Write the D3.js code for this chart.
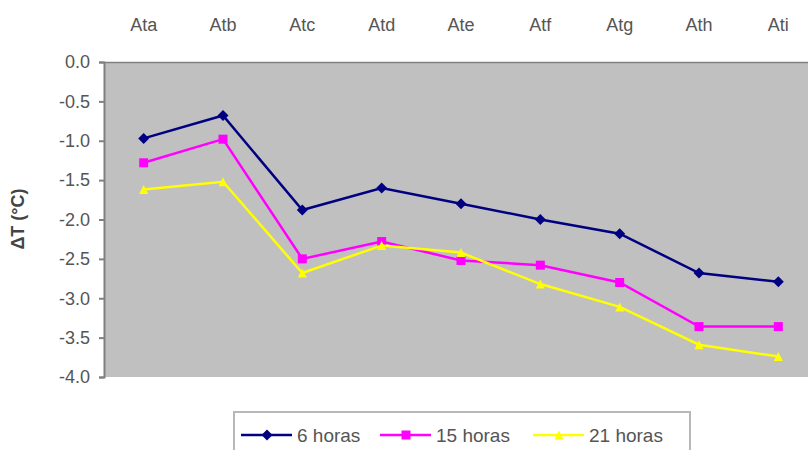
<!DOCTYPE html>
<html>
<head>
<meta charset="utf-8">
<script src="https://cdn.jsdelivr.net/npm/d3@7"></script>
<style>
  html, body { margin: 0; padding: 0; background: #fff; }
  svg { display: block; font-family: "Liberation Sans", Arial, sans-serif; }
</style>
</head>
<body>
<svg id="chart" width="808" height="450"></svg>
<script>
// Categories (sites) along the top axis
const categories = ["Ata", "Atb", "Atc", "Atd", "Ate", "Atf", "Atg", "Ath", "Ati"];
// Series values per observation hour
const serie6h  = [-0.97, -0.68, -1.88, -1.60, -1.80, -2.00, -2.18, -2.68, -2.79];
const serie15h = [-1.28, -0.98, -2.50, -2.28, -2.52, -2.58, -2.80, -3.36, -3.36];
const serie21h = [-1.62, -1.52, -2.68, -2.33, -2.42, -2.82, -3.11, -3.59, -3.74];
const seriesNames = ["6 horas", "15 horas", "21 horas"];
const yTicks = [0, -0.5, -1, -1.5, -2, -2.5, -3, -3.5, -4];
const yLabel = "ΔT (°C)";

const series = [
  { name: seriesNames[0], values: serie6h,  color: "#000080", marker: "diamond" },
  { name: seriesNames[1], values: serie15h, color: "#ff00ff", marker: "square" },
  { name: seriesNames[2], values: serie21h, color: "#ffff00", marker: "triangle" }
];

const svg = d3.select("#chart");
const plot = { left: 104, top: 62, right: 818, bottom: 377 };

const x = d3.scaleBand().domain(categories).range([plot.left, plot.right]);
const y = d3.scaleLinear().domain([0, -4]).range([plot.top, plot.bottom]);
const cx = d => x(d) + x.bandwidth() / 2;

// Plot area
svg.append("rect")
  .attr("x", plot.left).attr("y", plot.top)
  .attr("width", plot.right - plot.left).attr("height", plot.bottom - plot.top)
  .attr("fill", "#c0c0c0");

// Value axis (left)
const yAxis = d3.axisLeft(y).tickValues(yTicks).tickSize(5).tickPadding(9);
const gy = svg.append("g").attr("transform", `translate(${plot.left},0)`).call(yAxis);
gy.select(".domain").attr("stroke", "#808080").attr("stroke-width", 2);
gy.selectAll(".tick line").attr("stroke", "#808080").attr("stroke-width", 2);
gy.selectAll(".tick text").attr("font-size", 18).attr("fill", "#555")
  .text(d => d3.format(".1f")(d).replace("−", "-").replace("-0.0", "0.0"));

// Category axis along the top (at value 0)
const xAxis = d3.axisTop(x).tickSize(0).tickPadding(31);
const gx = svg.append("g").attr("transform", `translate(0,${plot.top})`).call(xAxis);
gx.select(".domain").attr("stroke", "#808080").attr("stroke-width", 1.5);
gx.selectAll(".tick text").attr("font-size", 18).attr("fill", "#555");

// Axis title
svg.append("text")
  .attr("transform", `translate(24,219) rotate(-90)`)
  .attr("text-anchor", "middle")
  .attr("font-size", 18).attr("font-weight", "bold").attr("fill", "#444")
  .text(yLabel);

// Marker shapes
function markerPath(kind, size) {
  const s = size / 2;
  if (kind === "diamond") return `M0,${-s}L${s},0L0,${s}L${-s},0Z`;
  if (kind === "square") return `M${-s},${-s}H${s}V${s}H${-s}Z`;
  return `M0,${-s}L${s},${s}L${-s},${s}Z`;
}

const line = d3.line().x((d, i) => cx(categories[i])).y(d => y(d));

series.forEach(s => {
  svg.append("path")
    .attr("d", line(s.values))
    .attr("fill", "none").attr("stroke", s.color).attr("stroke-width", 2.5);
  svg.append("g").selectAll("path").data(s.values).join("path")
    .attr("transform", (d, i) => `translate(${cx(categories[i])},${y(d)})`)
    .attr("d", markerPath(s.marker, s.marker === "diamond" ? 11 : 9))
    .attr("fill", s.color);
});

// Legend
const legend = svg.append("g");
legend.append("rect")
  .attr("x", 234).attr("y", 412).attr("width", 456).attr("height", 60)
  .attr("fill", "#fff").attr("stroke", "#b8b8b8").attr("stroke-width", 2);
const legendX = [241, 380, 533];
series.forEach((s, i) => {
  const lx = legendX[i];
  const ly = 435;
  legend.append("line")
    .attr("x1", lx).attr("x2", lx + 51).attr("y1", ly).attr("y2", ly)
    .attr("stroke", s.color).attr("stroke-width", 2.5);
  legend.append("path")
    .attr("transform", `translate(${lx + 26},${ly})`)
    .attr("d", markerPath(s.marker, s.marker === "diamond" ? 11 : 9))
    .attr("fill", s.color);
  legend.append("text")
    .attr("x", lx + 56).attr("y", ly + 7)
    .attr("font-size", 19).attr("fill", "#555")
    .text(s.name);
});
</script>
</body>
</html>
